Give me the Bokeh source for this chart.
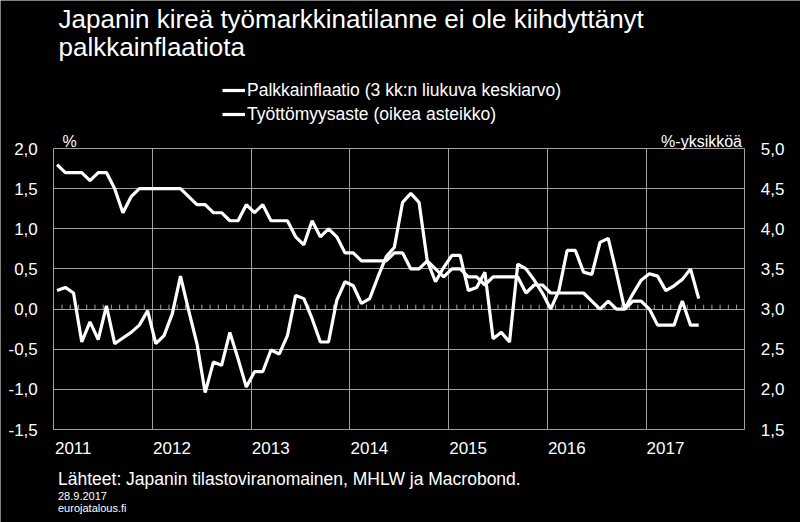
from bokeh.plotting import figure
from bokeh.models import (Range1d, LinearAxis, FixedTicker, CustomJSTickFormatter,
                          Legend, LegendItem, Label, ColumnDataSource, Grid)
from bokeh.embed import file_html
from bokeh.resources import INLINE
import numpy as np

# ---------------- data (monthly, Jan 2011 - Jul 2017) ----------------
start_year = 2011
wage_inflation = [
    0.23, 0.27, 0.20, -0.41, -0.16, -0.38, 0.04, -0.43, -0.36, -0.29,
    -0.20, -0.02, -0.43, -0.33, -0.06, 0.41, -0.02, -0.43, -1.04, -0.66,
    -0.70, -0.29, -0.62, -0.97, -0.78, -0.78, -0.51, -0.56, -0.33, 0.17,
    0.13, -0.12, -0.41, -0.41, 0.11, 0.34, 0.29, 0.07, 0.13, 0.40,
    0.65, 0.77, 1.33, 1.44, 1.33, 0.60, 0.34, 0.52, 0.67, 0.67,
    0.23, 0.27, 0.46, -0.37, -0.29, -0.41, 0.56, 0.50, 0.36, 0.20,
    0.00, 0.23, 0.73, 0.73, 0.46, 0.43, 0.83, 0.88, 0.45, 0.00,
    0.19, 0.36, 0.44, 0.41, 0.23, 0.29, 0.37, 0.50, 0.13,
]
unemployment = [
    4.8, 4.7, 4.7, 4.7, 4.6, 4.7, 4.7, 4.5, 4.2, 4.4,
    4.5, 4.5, 4.5, 4.5, 4.5, 4.5, 4.4, 4.3, 4.3, 4.2,
    4.2, 4.1, 4.1, 4.3, 4.2, 4.3, 4.1, 4.1, 4.1, 3.9,
    3.8, 4.1, 3.9, 4.0, 3.9, 3.7, 3.7, 3.6, 3.6, 3.6,
    3.6, 3.7, 3.7, 3.5, 3.5, 3.6, 3.5, 3.4, 3.5, 3.5,
    3.4, 3.4, 3.3, 3.4, 3.4, 3.4, 3.4, 3.2, 3.3, 3.3,
    3.2, 3.2, 3.2, 3.2, 3.2, 3.1, 3.0, 3.1, 3.0, 3.0,
    3.1, 3.1, 3.0, 2.8, 2.8, 2.8, 3.1, 2.8, 2.8,
]
year_labels = ["2011", "2012", "2013", "2014", "2015", "2016", "2017"]
left_ticks = [-1.5, -1.0, -0.5, 0.0, 0.5, 1.0, 1.5, 2.0]
right_ticks = [1.5, 2.0, 2.5, 3.0, 3.5, 4.0, 4.5, 5.0]

title_lines = ["Japanin kireä työmarkkinatilanne ei ole kiihdyttänyt",
               "palkkainflaatiota"]
legend_labels = ["Palkkainflaatio (3 kk:n liukuva keskiarvo)",
                 "Työttömyysaste (oikea asteikko)"]
source_text = "Lähteet: Japanin tilastoviranomainen, MHLW ja Macrobond."
date_text = "28.9.2017"
site_text = "eurojatalous.fi"
left_unit = "%"
right_unit = "%-yksikköä"

# ---------------- layout constants (pixels) ----------------
W, H = 800, 522
PL, PR, PT, PB = 53.3, 744.3, 148.0, 429.0   # plot-area box inside the canvas
FONT = "Liberation Sans"
GRID = "#a0a0a0"

x0 = start_year
x1 = start_year + len(year_labels)
y0, y1 = left_ticks[0], left_ticks[-1]
right_shift = right_ticks[0] - left_ticks[0]

# the frame is the whole canvas; ranges chosen so the data box lands on the plot area
xs = (x1 - x0) / (PR - PL)
ys = (y1 - y0) / (PB - PT)
xr = Range1d(x0 - PL * xs, x1 + (W - PR) * xs)
yr = Range1d(y0 - (H - PB) * ys, y1 + PT * ys)

months = np.arange(len(wage_inflation))
x = start_year + (months + 0.4) / 12.0
src = ColumnDataSource(dict(x=x, wage=wage_inflation, unemp=unemployment))

p = figure(width=W, height=H, output_backend="svg", toolbar_location=None,
           title=None, x_range=xr, y_range=yr,
           x_axis_location=None, y_axis_location=None,
           min_border=0, min_border_left=0, min_border_right=0,
           min_border_top=0, min_border_bottom=0)
p.extra_y_ranges = {"right": Range1d(yr.start + right_shift, yr.end + right_shift)}
p.background_fill_color = "black"
p.border_fill_color = "black"
p.outline_line_color = None
p.grid.visible = False

# grid lines (bounded to the plot area)
vgrid = Grid(dimension=0, ticker=FixedTicker(ticks=list(range(x0, x1 + 1))),
             cross_bounds=(y0, y1), grid_line_color=GRID, grid_line_width=1)
hgrid = Grid(dimension=1, ticker=FixedTicker(ticks=left_ticks),
             cross_bounds=(x0, x1), grid_line_color=GRID, grid_line_width=1)
p.add_layout(vgrid)
p.add_layout(hgrid)

# zero-line monthly ticks
mt = np.arange(x0 * 12 + 1, x1 * 12) / 12.0
p.segment(x0=mt, y0=np.zeros_like(mt), x1=mt, y1=np.full_like(mt, 0.055),
          line_color=GRID, line_width=1)

r1 = p.line("x", "wage", source=src, line_color="white", line_width=3.2)
r2 = p.line("x", "unemp", source=src, line_color="white", line_width=3.2,
            y_range_name="right")

def style_axis(ax):
    ax.axis_line_color = None
    ax.major_tick_line_color = None
    ax.minor_tick_line_color = None
    ax.major_tick_out = 0
    ax.major_tick_in = 0
    ax.major_label_text_color = "white"
    ax.major_label_text_font = FONT
    ax.major_label_text_font_size = "17px"

comma = CustomJSTickFormatter(code="return tick.toFixed(1).replace('.', ',');")

ya = LinearAxis(ticker=FixedTicker(ticks=left_ticks), formatter=comma,
                fixed_location=x0)
style_axis(ya)
ya.major_label_standoff = 16
p.add_layout(ya, "left")

yb = LinearAxis(y_range_name="right", ticker=FixedTicker(ticks=right_ticks),
                formatter=comma, fixed_location=x1)
style_axis(yb)
yb.major_label_standoff = 16
p.add_layout(yb, "right")

xa = LinearAxis(ticker=FixedTicker(ticks=[start_year + k + 0.197 for k in range(len(year_labels))]),
                formatter=CustomJSTickFormatter(code="return String(Math.floor(tick));"),
                fixed_location=y0)
style_axis(xa)
xa.major_label_standoff = 12
p.add_layout(xa, "below")

legend = Legend(items=[LegendItem(label=legend_labels[0], renderers=[r1]),
                       LegendItem(label=legend_labels[1], renderers=[r2])],
                location=(222, H - 81.7 - 43), orientation="vertical",
                background_fill_alpha=0, border_line_color=None,
                label_text_color="white", label_text_font=FONT,
                label_text_font_size="17.5px", glyph_width=23, glyph_height=20,
                label_height=20, label_standoff=2, spacing=3, padding=0, margin=0)
p.add_layout(legend, "center")

def add_label(text, px, center, size, align="left"):
    p.add_layout(Label(x=px, y=H - center, x_units="screen", y_units="screen",
                       text=text, text_color="white", text_font=FONT,
                       text_font_size=size, text_align=align,
                       text_baseline="middle"))

add_label(title_lines[0], 58, 18.5, "26px")
add_label(title_lines[1], 58, 46.5, "26px")
add_label(left_unit, 62, 141, "16px")
add_label(right_unit, 741.5, 141, "16px", align="right")
add_label(source_text, 57.5, 478.5, "17.5px")
add_label(date_text, 57.5, 495.5, "11px")
add_label(site_text, 57.5, 507, "11px")

open("out.html", "w").write(file_html(p, INLINE))
